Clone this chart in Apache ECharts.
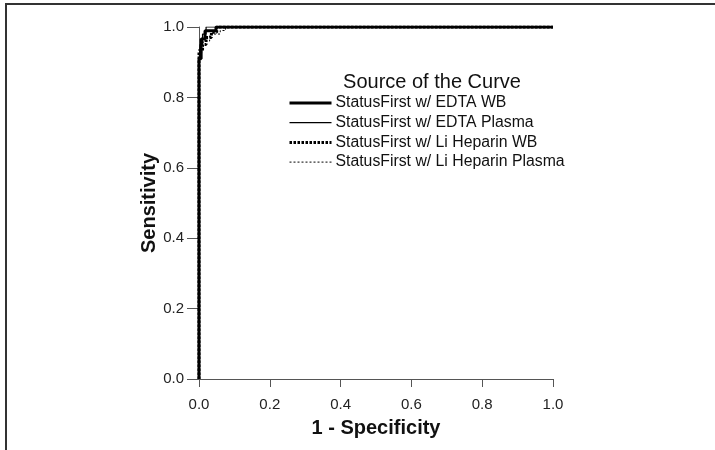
<!DOCTYPE html>
<html><head><meta charset="utf-8">
<script src="https://cdn.jsdelivr.net/npm/echarts@6/dist/echarts.min.js"></script>
<style>html,body{margin:0;padding:0;background:#fff}#c{width:715px;height:450px}</style>
</head><body><div id="c"></div>
<script>
const seriesNames = ['StatusFirst w/ EDTA WB','StatusFirst w/ EDTA Plasma','StatusFirst w/ Li Heparin WB','StatusFirst w/ Li Heparin Plasma'];
const xTicks = [0, 0.2, 0.4, 0.6, 0.8, 1.0];
// ROC corner points [1 - specificity, sensitivity]
const edtaWB = [[0,0],[0,0.91],[0.006,0.91],[0.006,0.966],[0.017,0.966],[0.017,0.989],[0.048,0.989],[0.048,1],[1,1]];
const edtaPlasma = [[0,0],[0,0.90],[0.003,0.90],[0.003,0.95],[0.01,0.95],[0.01,0.98],[0.02,0.98],[0.02,1],[1,1]];
const liHepWB = [[0,0],[0,0.93],[0.01,0.93],[0.01,0.95],[0.02,0.95],[0.02,0.97],[0.035,0.97],[0.035,0.985],[0.05,0.985],[0.05,1],[1,1]];
const liHepPlasma = [[0,0],[0,0.94],[0.012,0.94],[0.012,0.96],[0.03,0.96],[0.03,0.98],[0.06,0.98],[0.06,0.99],[0.075,0.99],[0.075,1],[1,1]];

const styles = [
  {color:'#000', width:3},
  {color:'#000', width:1.2},
  {color:'#000', width:3, type:[2.5,1.5]},
  {color:'#000', width:1, type:[2,2]}
];

const chart = echarts.init(document.getElementById('c'), null, {renderer:'canvas'});
const font = 'Liberation Sans, Arial, sans-serif';
const axisCommon = {
  type:'value', min:0, max:1, interval:0.2,
  axisLine:{show:true, lineStyle:{color:'#555', width:1}},
  splitLine:{show:false},
  nameTextStyle:{color:'#111', fontSize:20, fontWeight:'bold', fontFamily:font},
  nameLocation:'middle'
};
const lbl = {color:'#222', fontSize:15, fontFamily:font, formatter:v=>v.toFixed(1)};
chart.setOption({
  animation:false,
  textStyle:{fontFamily:font},
  grid:{left:199, right:162, top:27, bottom:71},
  xAxis:Object.assign({}, axisCommon, {name:'1 - Specificity', nameGap:39,
    axisTick:{show:true, length:8, lineStyle:{color:'#555'}},
    axisLabel:Object.assign({}, lbl, {margin:18})}),
  yAxis:Object.assign({}, axisCommon, {name:'Sensitivity', nameGap:36,
    axisTick:{show:true, length:12, lineStyle:{color:'#555'}},
    axisLabel:Object.assign({}, lbl, {margin:15})}),
  legend:{
    orient:'vertical', left:283, top:90, itemGap:3.7, itemWidth:42, itemHeight:14,
    itemStyle:{opacity:0},
    textStyle:{fontSize:15.8, color:'#111', fontFamily:font, padding:[0,0,0,-1]},
    data:seriesNames.map((n,i)=>({name:n, lineStyle:Object.assign({}, styles[i])}))
  },
  graphic:[
    {type:'text', x:432, y:82, style:{text:'Source of the Curve', fontSize:20, fill:'#111', fontFamily:font, textAlign:'center', textVerticalAlign:'middle'}},
    {type:'rect', shape:{x:5, y:3, width:715, height:2}, style:{fill:'#333'}},
    {type:'rect', shape:{x:5, y:3, width:2, height:450}, style:{fill:'#333'}}
  ],
  series:[
    {name:seriesNames[0], type:'line', data:edtaWB, showSymbol:false, symbol:'none', lineStyle:styles[0], itemStyle:{color:'#000'}, z:4},
    {name:seriesNames[1], type:'line', data:edtaPlasma, showSymbol:false, symbol:'none', lineStyle:styles[1], itemStyle:{color:'#000'}, z:3},
    {name:seriesNames[2], type:'line', data:liHepWB, showSymbol:false, symbol:'none', lineStyle:styles[2], itemStyle:{color:'#000'}, z:2},
    {name:seriesNames[3], type:'line', data:liHepPlasma, showSymbol:false, symbol:'none', lineStyle:styles[3], itemStyle:{color:'#000'}, z:1}
  ]
});
</script></body></html>
